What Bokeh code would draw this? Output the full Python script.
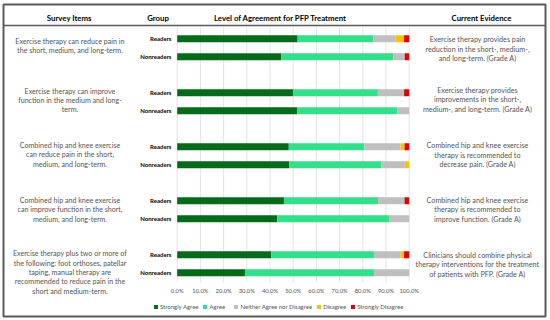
from bokeh.plotting import figure
from bokeh.models import Range1d, LinearAxis, FixedTicker, ColumnDataSource, Legend, LegendItem
from bokeh.core.properties import value
from bokeh.embed import file_html
from bokeh.resources import INLINE

# ---------------- data ----------------
groups = ["Readers", "Nonreaders"]
categories = ["Strongly Agree", "Agree", "Neither Agree nor Disagree", "Disagree", "Strongly Disagree"]

survey_items = [
    ["Exercise therapy can reduce pain in", "the short, medium, and long-term."],
    ["Exercise therapy can improve", "function in the medium and long-", "term."],
    ["Combined hip and knee exercise", "can reduce pain in the short,", "medium, and long-term."],
    ["Combined hip and knee exercise", "can improve function in the short,", "medium, and long-term."],
    ["Exercise therapy plus two or more of", "the following: foot orthoses, patellar",
     "taping, manual therapy are", "recommended to reduce pain in the", "short and medium-term."],
]
evidence = [
    ["Exercise therapy provides pain", "reduction in the short-, medium-,", "and long-term. (Grade A)"],
    ["Exercise therapy provides", "improvements in the short-,", "medium-, and long-term. (Grade A)"],
    ["Combined hip and knee exercise", "therapy is recommended to", "decrease pain. (Grade A)"],
    ["Combined hip and knee exercise", "therapy is recommended to", "improve function. (Grade A)"],
    ["Clinicians should combine physical", "therapy interventions for the treatment", "of patients with PFP. (Grade A)"],
]

readers_sa = [51.9, 50.0, 48.1, 46.0, 40.5]
readers_a = [32.7, 36.5, 32.6, 40.6, 44.3]
readers_n = [9.5, 11.3, 15.6, 11.4, 11.5]
readers_d = [3.7, 0.0, 1.7, 0.0, 1.5]
readers_sd = [2.2, 2.2, 2.0, 2.0, 2.2]

nonreaders_sa = [44.8, 51.7, 48.3, 43.1, 29.2]
nonreaders_a = [48.3, 43.1, 39.8, 48.4, 55.6]
nonreaders_n = [5.0, 5.2, 10.0, 8.5, 15.2]
nonreaders_d = [0.0, 0.0, 1.9, 0.0, 0.0]
nonreaders_sd = [1.9, 0.0, 0.0, 0.0, 0.0]

tick_values = [0, 10, 20, 30, 40, 50, 60, 70, 80, 90, 100]
tick_labels = ["0.0%", "10.0%", "20.0%", "30.0%", "40.0%", "50.0%", "60.0%", "70.0%", "80.0%", "90.0%", "100.0%"]

headers = ["Survey Items", "Group", "Level of Agreement for PFP Treatment", "Current Evidence"]

# ---------------- style ----------------
colors = ["#056B1B", "#33DF8A", "#BFBFBF", "#FFC000", "#E00000"]
FONT = "Lato"
GREY = "#555555"

W, H = 550, 320
PCT0_PX, PCT_SCALE = 176.7, 2.32  # 0% at px 176.7, 2.32 px per %
ROW0, ROW_STEP, PAIR_GAP = 38.3, 54.0, 18.0
LINE_H = 9.3

p = figure(width=W, height=H, output_backend="svg", toolbar_location=None,
           x_range=Range1d(0, W), y_range=Range1d(H, 0), min_border=0)
p.extra_x_ranges = {"pct": Range1d((0 - PCT0_PX) / PCT_SCALE, (W - PCT0_PX) / PCT_SCALE)}
p.xaxis.visible = False
p.yaxis.visible = False
p.xgrid.visible = False
p.ygrid.visible = False
p.outline_line_color = None
p.background_fill_color = "white"
p.border_fill_color = "white"

# outer frame and header rule
p.quad(left=[3], right=[545], top=[4], bottom=[316], fill_color=None,
       line_color="#5A5A5A", line_width=2)
p.segment(x0=[3], x1=[545], y0=[25], y1=[25], line_color="#5A5A5A", line_width=1.5)

# bars source
ys, labels = [], []
cols = {c: [] for c in categories}
r_lists = [readers_sa, readers_a, readers_n, readers_d, readers_sd]
n_lists = [nonreaders_sa, nonreaders_a, nonreaders_n, nonreaders_d, nonreaders_sd]
for i in range(len(survey_items)):
    for g, lists in enumerate([r_lists, n_lists]):
        ys.append(ROW0 + ROW_STEP * i + PAIR_GAP * g)
        labels.append(groups[g])
        for c, lst in zip(categories, lists):
            cols[c].append(lst[i])
src = ColumnDataSource(dict(y=ys, label=labels, **cols))

# gridlines
p.segment(x0=tick_values, x1=tick_values, y0=27, y1=282, x_range_name="pct",
          line_color="#E4E4E4", line_width=1)

renderers = p.hbar_stack(categories, y="y", height=7, color=colors, source=src,
                         x_range_name="pct", line_color=None)

# group labels
p.text(x=171, y="y", text="label", source=src, text_align="right", text_baseline="middle",
       text_font=value(FONT), text_font_size="6px", text_font_style="bold", text_color="black")

# header texts
p.text(x=[68.7, 157.5, 280, 481], y=[17.3] * 4, text=headers, text_align="center",
       text_baseline="middle", text_font=value(FONT), text_font_size="7.8px",
       text_font_style="bold", text_color="black")

# survey items / evidence
left_first = [40.7, 90.7, 145.0, 200.0, 253.3]
right_first = [39.3, 90.0, 145.3, 200.0, 255.0]
lx, ly, lt = [], [], []
for i, lines in enumerate(survey_items):
    for j, t in enumerate(lines):
        lx.append(69.5); ly.append(left_first[i] + LINE_H * j); lt.append(t)
rx, ry, rt = [], [], []
for i, lines in enumerate(evidence):
    for j, t in enumerate(lines):
        rx.append(477); ry.append(right_first[i] + LINE_H * j); rt.append(t)
p.text(x=lx, y=ly, text=lt, text_align="center", text_baseline="middle",
       text_font=value(FONT), text_font_size="7.1px", text_color=GREY)
p.text(x=rx, y=ry, text=rt, text_align="center", text_baseline="middle",
       text_font=value(FONT), text_font_size="7.2px", text_color=GREY)

# x axis inside the frame
ax = LinearAxis(x_range_name="pct", ticker=FixedTicker(ticks=tick_values),
                major_label_overrides={v: l for v, l in zip(tick_values, tick_labels)})
ax.fixed_location = 286
ax.axis_line_color = None
ax.major_tick_line_color = None
ax.minor_tick_line_color = None
ax.major_tick_out = 0
ax.major_tick_in = 0
ax.major_label_standoff = 0
ax.major_label_text_font = FONT
ax.major_label_text_font_size = "5.8px"
ax.major_label_text_color = GREY
p.add_layout(ax, "below")

legend = Legend(items=[LegendItem(label=c, renderers=[r]) for c, r in zip(categories, renderers)],
                orientation="horizontal", location=(153, 10))
legend.glyph_width = 5
legend.glyph_height = 5
legend.label_height = 7
legend.label_standoff = 2
legend.spacing = 4
legend.padding = 0
legend.margin = 0
legend.border_line_color = None
legend.background_fill_alpha = 0
legend.label_text_font = FONT
legend.label_text_font_size = "6.0px"
legend.label_text_color = GREY
p.add_layout(legend)

open("out.html", "w").write(file_html(p, INLINE))
